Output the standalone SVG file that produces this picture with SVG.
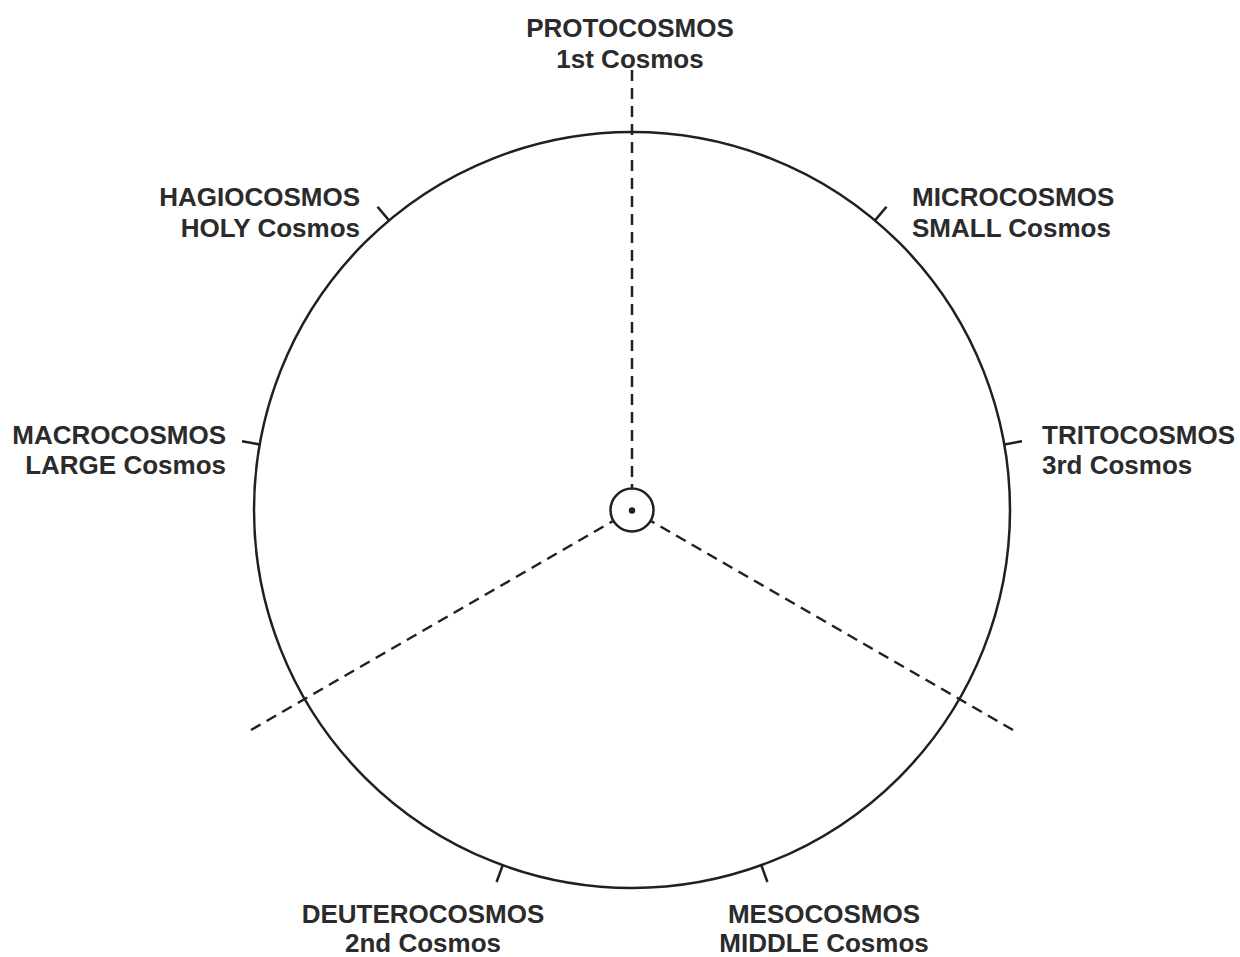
<svg xmlns="http://www.w3.org/2000/svg" width="1240" height="957" viewBox="0 0 1240 957">
<style>
.ln{stroke:#231f20;stroke-width:2.5;fill:none}
.dash{stroke:#231f20;stroke-width:2.5;fill:none;stroke-dasharray:11 7}
.t{font-family:"Liberation Sans",Arial,sans-serif;font-size:26px;fill:#2b2b2b;font-weight:bold}
.c{text-anchor:middle}
.r{text-anchor:end}
.l{text-anchor:start}
</style>
<rect width="1240" height="957" fill="#fff"/>
<g id="connectors">
<line class="dash" x1="632" y1="70" x2="632" y2="488.5"/>
<line class="dash" x1="1013" y1="730" x2="650.6" y2="520.8"/>
<line class="dash" x1="251" y1="730" x2="613.4" y2="520.8"/>
</g>
<g id="circle">
<circle class="ln" cx="632" cy="510" r="378"/>
<line class="ln" x1="875" y1="220.4" x2="886.5" y2="206.7"/>
<line class="ln" x1="389" y1="220.4" x2="377.5" y2="206.7"/>
<line class="ln" x1="259.7" y1="444.4" x2="242" y2="441.2"/>
<line class="ln" x1="1004.3" y1="444.4" x2="1022" y2="441.2"/>
<line class="ln" x1="502.7" y1="865.2" x2="496.6" y2="882"/>
<line class="ln" x1="761.3" y1="865.2" x2="767.4" y2="882"/>
</g>
<g id="center">
<circle class="ln" cx="632" cy="510" r="21.5"/>
<circle cx="632" cy="510.5" r="3.2" fill="#231f20"/>
</g>
<g id="protocosmos"><text class="t c" x="630" y="37">PROTOCOSMOS</text><text class="t c" x="630" y="68">1st Cosmos</text></g>
<g id="hagiocosmos"><text class="t r" x="360" y="206">HAGIOCOSMOS</text><text class="t r" x="360" y="237">HOLY Cosmos</text></g>
<g id="microcosmos"><text class="t l" x="912" y="206">MICROCOSMOS</text><text class="t l" x="912" y="237">SMALL Cosmos</text></g>
<g id="macrocosmos"><text class="t r" x="226" y="444">MACROCOSMOS</text><text class="t r" x="226" y="474">LARGE Cosmos</text></g>
<g id="tritocosmos"><text class="t l" x="1042" y="444">TRITOCOSMOS</text><text class="t l" x="1042" y="474">3rd Cosmos</text></g>
<g id="deuterocosmos"><text class="t c" x="423" y="923">DEUTEROCOSMOS</text><text class="t c" x="423" y="952">2nd Cosmos</text></g>
<g id="mesocosmos"><text class="t c" x="824" y="923">MESOCOSMOS</text><text class="t c" x="824" y="952">MIDDLE Cosmos</text></g>
</svg>
